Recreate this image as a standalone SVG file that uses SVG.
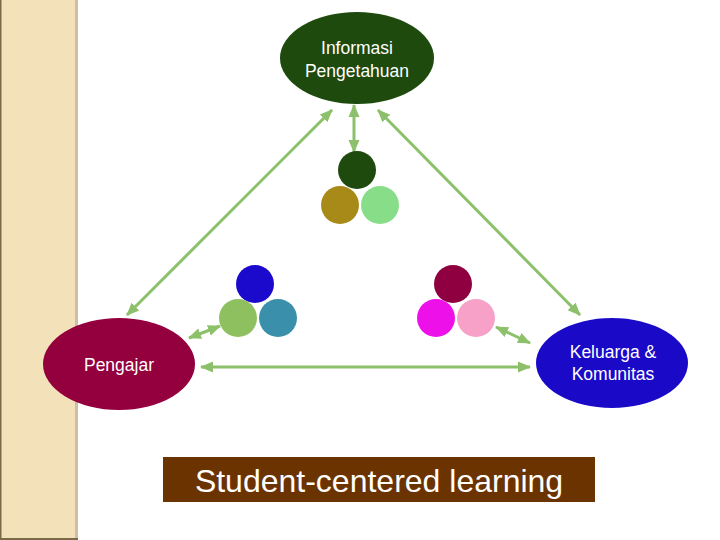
<svg xmlns="http://www.w3.org/2000/svg" width="720" height="540" viewBox="0 0 720 540">
<defs>
<style>
.lbl{font-family:"Liberation Sans",Arial,sans-serif;fill:#fff;text-anchor:middle}
.conn line{stroke:#8CC06A;stroke-width:3;marker-start:url(#ah);marker-end:url(#ah)}
</style>
<marker id="ah" markerUnits="userSpaceOnUse" markerWidth="13" markerHeight="13" viewBox="0 0 13 13" refX="12" refY="6.5" orient="auto-start-reverse">
<path d="M0,1 L13,6.5 L0,12 Z" fill="#8CC06A"/>
</marker>
</defs>
<rect width="720" height="540" fill="#fff"/>
<g id="sidebar">
<rect x="0" y="0" width="77" height="540" fill="#F3E2B9"/>
<rect x="75" y="0" width="3" height="540" fill="#CDBFA0"/>
<rect x="0" y="0" width="1.5" height="540" fill="#7A6A48"/>
<rect x="0" y="538" width="78" height="2" fill="#7A6A48"/>
</g>
<g class="conn" id="connectors">
<line x1="332" y1="110" x2="127" y2="315"/>
<line x1="354" y1="105" x2="354" y2="152"/>
<line x1="378" y1="110" x2="580" y2="315"/>
<line x1="201" y1="367" x2="530" y2="367"/>
<line x1="189" y1="338" x2="220" y2="326"/>
<line x1="496" y1="327" x2="530" y2="343"/>
</g>
<g id="informasi">
<ellipse cx="357" cy="58" rx="77" ry="46" fill="#1E4A0E"/>
<text class="lbl" x="357" y="54" font-size="17.5">Informasi</text>
<text class="lbl" x="357" y="77" font-size="17.5">Pengetahuan</text>
</g>
<g id="pengajar">
<ellipse cx="119" cy="364" rx="76" ry="46" fill="#94003E"/>
<text class="lbl" x="119" y="371" font-size="17.5">Pengajar</text>
</g>
<g id="keluarga">
<ellipse cx="612" cy="363" rx="76" ry="45" fill="#1A0AC8"/>
<text class="lbl" x="613" y="358" font-size="17.5">Keluarga &amp;</text>
<text class="lbl" x="613" y="380" font-size="17.5">Komunitas</text>
</g>
<g id="group-top">
<circle cx="357" cy="170" r="19" fill="#1E4A0E"/>
<circle cx="340" cy="205" r="19" fill="#A88A18"/>
<circle cx="380" cy="205" r="19" fill="#88DD88"/>
</g>
<g id="group-left">
<circle cx="255" cy="284" r="19" fill="#1B0ACC"/>
<circle cx="238" cy="318" r="19" fill="#8FC060"/>
<circle cx="278" cy="318" r="19" fill="#3A8FAA"/>
</g>
<g id="group-right">
<circle cx="453" cy="284" r="19" fill="#8E0040"/>
<circle cx="436" cy="318" r="19" fill="#EE10E8"/>
<circle cx="476" cy="318" r="19" fill="#F7A0C8"/>
</g>
<g id="student">
<rect x="163" y="457" width="432" height="45" fill="#6B3300"/>
<text class="lbl" x="379" y="492" font-size="32">Student-centered learning</text>
</g>
</svg>
